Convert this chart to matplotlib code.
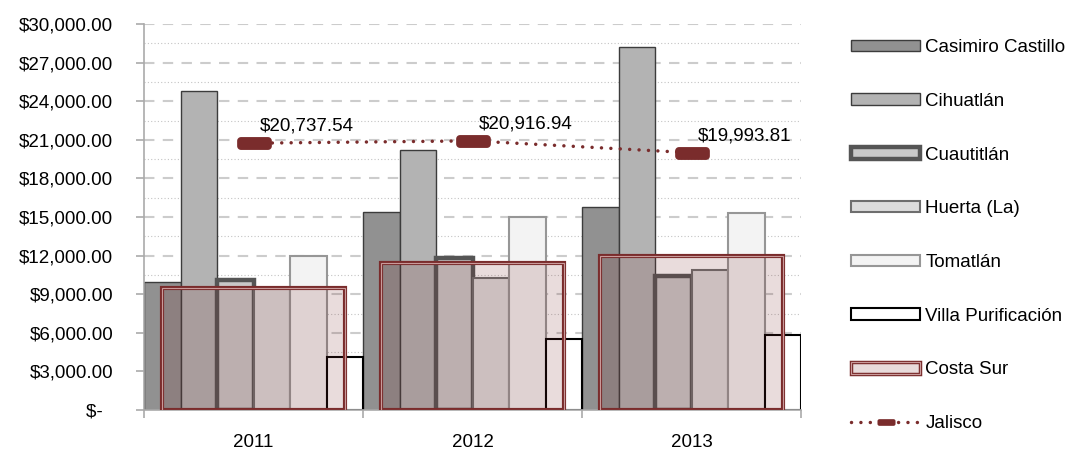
import numpy as np
import matplotlib
matplotlib.use("Agg")
import matplotlib.pyplot as plt
from matplotlib.path import Path
from matplotlib.patches import Patch
from matplotlib.lines import Line2D
from matplotlib.ticker import MultipleLocator, FuncFormatter

plt.rcParams["font.family"] = ["Liberation Sans", "DejaVu Sans"]
plt.rcParams["font.size"] = 13.5

years = ["2011", "2012", "2013"]
municipios = [
    "Casimiro Castillo",
    "Cihuatlán",
    "Cuautitlán",
    "Huerta (La)",
    "Tomatlán",
    "Villa Purificación",
]
casimiro = [9980, 15350, 15750]
cihuatlan = [24800, 20200, 28250]
cuautitlan = [10100, 11800, 10400]
huerta = [9450, 10250, 10900]
tomatlan = [11950, 15000, 15300]
villa = [4120, 5500, 5850]
costa_sur = [9500, 11400, 11950]
jalisco = [20737.54, 20916.94, 19993.81]

series = [casimiro, cihuatlan, cuautitlan, huerta, tomatlan, villa]
# face, edge, linewidth
styles = [
    ("#919191", "#3c3c3c", 1.0),
    ("#b3b3b3", "#3c3c3c", 1.0),
    ("#c9c9c9", "#555555", 3.2),
    ("#dcdcdc", "#6e6e6e", 1.5),
    ("#f3f3f3", "#969696", 1.5),
    ("#ffffff", "#000000", 1.5),
]
red = "#7a2c2c"


def rounded_rect_path(w, h, r, n=8):
    verts = []
    corners = [
        (w / 2 - r, h / 2 - r, 0),
        (-w / 2 + r, h / 2 - r, 90),
        (-w / 2 + r, -h / 2 + r, 180),
        (w / 2 - r, -h / 2 + r, 270),
    ]
    for cx, cy, a0 in corners:
        for t in np.linspace(np.radians(a0), np.radians(a0 + 90), n):
            verts.append((cx + r * np.cos(t), cy + r * np.sin(t)))
    verts.append(verts[0])
    codes = [Path.MOVETO] + [Path.LINETO] * (len(verts) - 2) + [Path.CLOSEPOLY]
    return Path(verts, codes)


pill = rounded_rect_path(2.7, 1.0, 0.3)

fig = plt.figure(figsize=(10.71, 4.53), dpi=100)
ax = fig.add_axes([144 / 1071, 43 / 453, 657 / 1071, 386 / 453])

x = np.arange(len(years))
bw = 1 / 6
for k, vals in enumerate(series):
    fc, ec, lw = styles[k]
    ax.bar(x + (k - 2.5) * bw, vals, width=bw, color=fc, edgecolor=ec,
           linewidth=lw, zorder=2)

# Costa Sur (translucent overlay, double border)
ax.bar(x, costa_sur, width=0.836, color=(0.48, 0.17, 0.17, 0.16),
       edgecolor=red, linewidth=3.0, zorder=3)
ax.bar(x, costa_sur, width=0.836, color="none",
       edgecolor="#c99a9a", linewidth=0.8, zorder=3)

ax.plot(x, jalisco, color=red, linestyle=(0, (0.01, 2.7)), linewidth=2.5,
        dash_capstyle="round", marker=pill, markersize=25,
        markeredgewidth=0, markerfacecolor=red, zorder=5)
for xi, v in zip(x, jalisco):
    ax.annotate(f"${v:,.2f}", (xi, v), xytext=(6, 17), textcoords="offset pixels",
                ha="left", va="center", zorder=6)

ax.set_xlim(-0.5, 2.5)
ax.set_ylim(0, 30000)
ax.yaxis.set_major_locator(MultipleLocator(3000))
ax.yaxis.set_minor_locator(MultipleLocator(1500))


def money(v, pos):
    if v == 0:
        return "$-  "
    return f"${v:,.2f}"


ax.yaxis.set_major_formatter(FuncFormatter(money))
ax.grid(axis="y", which="major", color="#cccccc", linestyle=(0, (5, 4)),
        linewidth=1.5, zorder=0)
ax.grid(axis="y", which="minor", color="#c4c4c4", linestyle=(0, (1, 2)),
        linewidth=0.8, zorder=0)
ax.set_axisbelow(True)

ax.set_xticks(x)
ax.set_xticklabels(years)
ax.set_xticks([-0.5, 0.5, 1.5, 2.5], minor=True)
ax.tick_params(axis="x", which="major", length=0, pad=17)
ax.tick_params(axis="x", which="minor", length=6, color="#aaaaaa", width=1.2)
ax.tick_params(axis="y", which="major", length=6, color="#aaaaaa", width=1.2, pad=16)
ax.tick_params(axis="y", which="minor", length=0)

for s in ["top", "right"]:
    ax.spines[s].set_visible(False)
for s in ["left", "bottom"]:
    ax.spines[s].set_color("#aaaaaa")
    ax.spines[s].set_linewidth(1.2)

# legend
handles = []
for k in range(6):
    fc, ec, lw = styles[k]
    handles.append(Patch(facecolor=fc, edgecolor=ec, linewidth=lw))
costa_handle = (
    Patch(facecolor="#e8dbdb", edgecolor=red, linewidth=2.5),
    Patch(facecolor="none", edgecolor="#c99a9a", linewidth=0.8),
)
handles.append(costa_handle)
handles.append(Line2D([], [], color=red, linestyle=(0, (0.01, 2.7)), linewidth=2.5,
                      dash_capstyle="round", marker=pill, markersize=13,
                      markeredgewidth=0, markerfacecolor=red))
labels = municipios + ["Costa Sur", "Jalisco"]

fig.legend(handles, labels, loc="upper left", bbox_to_anchor=(851 / 1071, 1 - 39 / 453),
           frameon=False, borderpad=0, borderaxespad=0, handlelength=3.68,
           handleheight=0.55, handletextpad=0.28, labelspacing=1.96,
           numpoints=1)

fig.savefig("out.png", dpi=100)
